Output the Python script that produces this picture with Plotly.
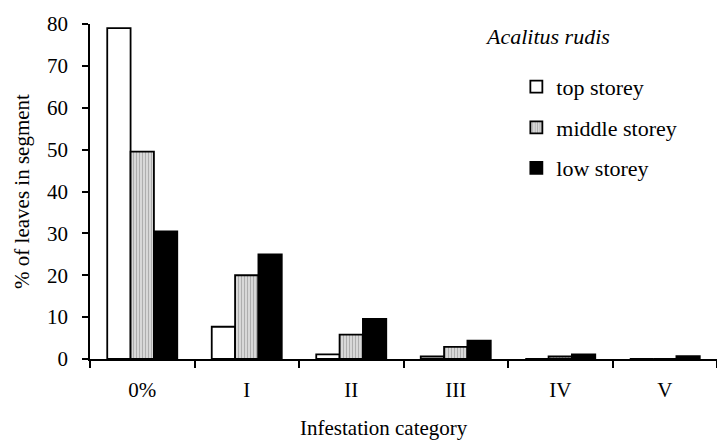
import plotly.graph_objects as go

categories = ["0%", "I", "II", "III", "IV", "V"]
top_storey = [79.0, 7.7, 1.1, 0.6, 0.0, 0.0]
middle_storey = [49.5, 20.0, 5.8, 2.9, 0.6, 0.0]
low_storey = [30.5, 25.0, 9.6, 4.4, 1.1, 0.7]
y_ticks = [0, 10, 20, 30, 40, 50, 60, 70, 80]

FONT = "Liberation Serif"

fig = go.Figure()
fig.add_trace(go.Bar(
    x=categories, y=top_storey, name="top storey", legendgroup="a",
    marker=dict(color="white", line=dict(color="black", width=1.8)),
))
fig.add_trace(go.Bar(
    x=categories, y=middle_storey, name="middle storey", legendgroup="b",
    marker=dict(color="#d6d6d6", line=dict(color="black", width=1.8),
                pattern=dict(shape="|", size=3, solidity=0.4,
                             fgcolor="#808080", bgcolor="#dcdcdc")),
))
fig.add_trace(go.Bar(
    x=categories, y=low_storey, name="low storey", legendgroup="c",
    marker=dict(color="black", line=dict(color="black", width=1.8)),
))

fig.update_layout(
    width=717, height=441,
    margin=dict(l=90, r=0, t=24, b=82),
    paper_bgcolor="white", plot_bgcolor="white",
    font=dict(family=FONT, size=21, color="black"),
    barmode="group", bargap=0.33, bargroupgap=0,
    showlegend=True,
    legend=dict(x=0.68, xanchor="left", y=0.875, yanchor="top",
                font=dict(family=FONT, size=22, color="black"),
                tracegroupgap=9, bgcolor="rgba(0,0,0,0)"),
    annotations=[
        dict(text="<i>Acalitus rudis</i>", xref="paper", yref="paper",
             x=0.729, y=0.963, xanchor="center", yanchor="middle",
             showarrow=False, font=dict(family=FONT, size=22)),
        dict(text="Infestation category", xref="paper", yref="paper",
             x=0.469, y=-0.205, xanchor="center", yanchor="middle",
             showarrow=False, font=dict(family=FONT, size=21)),
    ],
)
fig.update_xaxes(
    type="category", range=[-0.5, 5.5], showline=True, linecolor="black",
    linewidth=1.5, ticks="outside", tickson="boundaries", ticklen=7,
    tickcolor="black", tickwidth=1.5, showgrid=False, zeroline=False,
    ticklabelstandoff=11, tickfont=dict(family=FONT, size=21),
)
fig.update_yaxes(
    range=[0, 80], tickvals=y_ticks, showline=True, linecolor="black",
    linewidth=1.5, ticks="outside", ticklen=6, tickcolor="black",
    tickwidth=1.5, showgrid=False, zeroline=False, ticklabelstandoff=10,
    tickfont=dict(family=FONT, size=21),
    title=dict(text="% of leaves in segment", standoff=12,
               font=dict(family=FONT, size=21)),
)

fig.write_html("out.html")
